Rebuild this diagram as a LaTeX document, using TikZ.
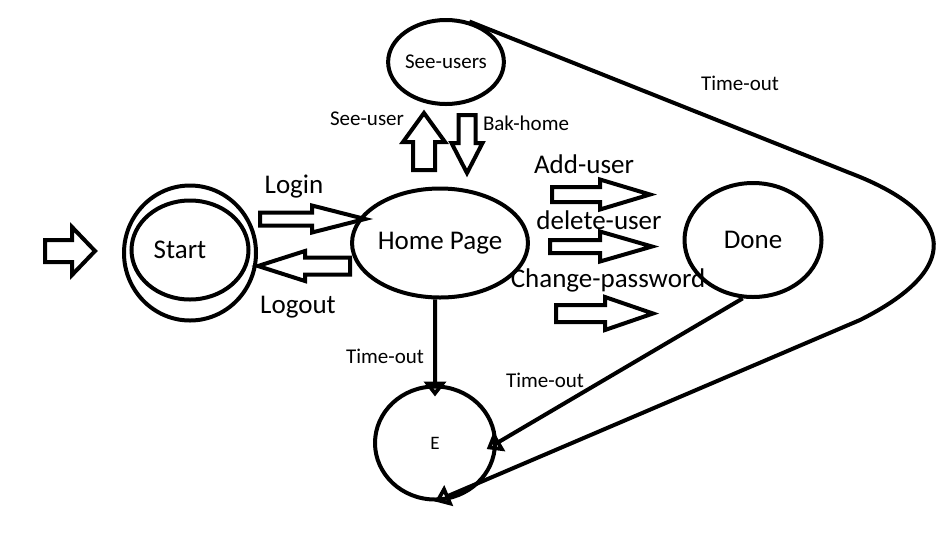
\documentclass[tikz,border=0pt]{standalone}
\usepackage{fontspec}
\setmainfont{Carlito}
\usetikzlibrary{shapes.geometric,arrows.meta}

\tikzset{
  state/.style={draw,ellipse,line width=4pt,inner sep=0pt},
  big/.style={font=\fontsize{27}{32}\selectfont},
  small/.style={font=\fontsize{21}{25}\selectfont},
  blockline/.style={line width=4pt},
  timeout/.style={line width=4pt,-{Triangle[open,length=15pt,width=22pt]}},
  % hollow block arrow: shaft length, head length, shaft half width, head half width
  pics/fat/.style n args={4}{code={
    \draw[blockline] (0,-#3) -- (#1,-#3) -- (#1,-#4) -- (#1+#2,0)
      -- (#1,#4) -- (#1,#3) -- (0,#3) -- cycle;
  }}
}

\begin{document}
\begin{tikzpicture}[x=1pt,y=-1pt]
  \useasboundingbox (0,0) rectangle (947,542);

  \node[state,minimum width=132,minimum height=135] (startout) at (190,253) {};
  \node[state,big,minimum width=117,minimum height=99] (start) at (190,250) {\hspace*{-20pt}Start};
  \node[state,big,minimum width=147,minimum height=109] (home) at (440,243) {Home Page};
  \node[state,small,minimum width=90,minimum height=84] (see) at (446,62) {See-users};
  \node[state,big,minimum width=137,minimum height=114] (done) at (753,240) {Done};
  \node[state,font=\fontsize{19}{23}\selectfont,minimum width=120,minimum height=113] (e) at (435,443) {E};

  % block arrows
  \pic (initarrow) at (45,251) {fat={27}{23}{11}{24}};
  \pic (loginarrow) at (260,219) {fat={52}{53}{6.5}{13.5}};
  \pic[rotate=180] (logoutarrow) at (350,266) {fat={45}{47}{8.5}{15}};
  \pic[rotate=90] (seearrow) at (424,170) {fat={28}{29}{11}{21}};
  \pic[rotate=-90] (backarrow) at (467,115) {fat={28}{30}{8.5}{15.5}};
  \pic (addarrow) at (552,194.5) {fat={48}{50}{7.5}{15}};
  \pic (delarrow) at (550,246.5) {fat={50}{52}{6.5}{15}};
  \pic (changearrow) at (556,313.5) {fat={49}{48}{8.5}{16.5}};

  \node[big,anchor=base] (login) at (294,193) {Login};
  \node[big,anchor=base] (logout) at (298,313) {Logout};
  \node[small,anchor=base] (seeuser) at (367,125) {See-user};
  \node[small,anchor=base] (bakhome) at (526,130) {Bak-home};
  \node[big,anchor=base] (adduser) at (584,173) {Add-user};
  \node[big,anchor=base] (deluser) at (599,229) {delete-user};
  \node[big,anchor=base] (changepw) at (608,287) {Change-password};

  % time-outs into E
  \draw[timeout,shorten >=-12pt] (home.265) -- (e.north);
  \draw[timeout,shorten >=-12pt] (done.260) -- (e.east);
  \draw[timeout] (see.60) -- (850,173) .. controls (960,215) and (960,270) .. (860,320) -- (e.south);

  \node[small,anchor=base] (timeout1) at (385,363) {Time-out};
  \node[small,anchor=base] (timeout2) at (545,387) {Time-out};
  \node[small,anchor=base] (timeout3) at (740,90) {Time-out};
\end{tikzpicture}
\end{document}
